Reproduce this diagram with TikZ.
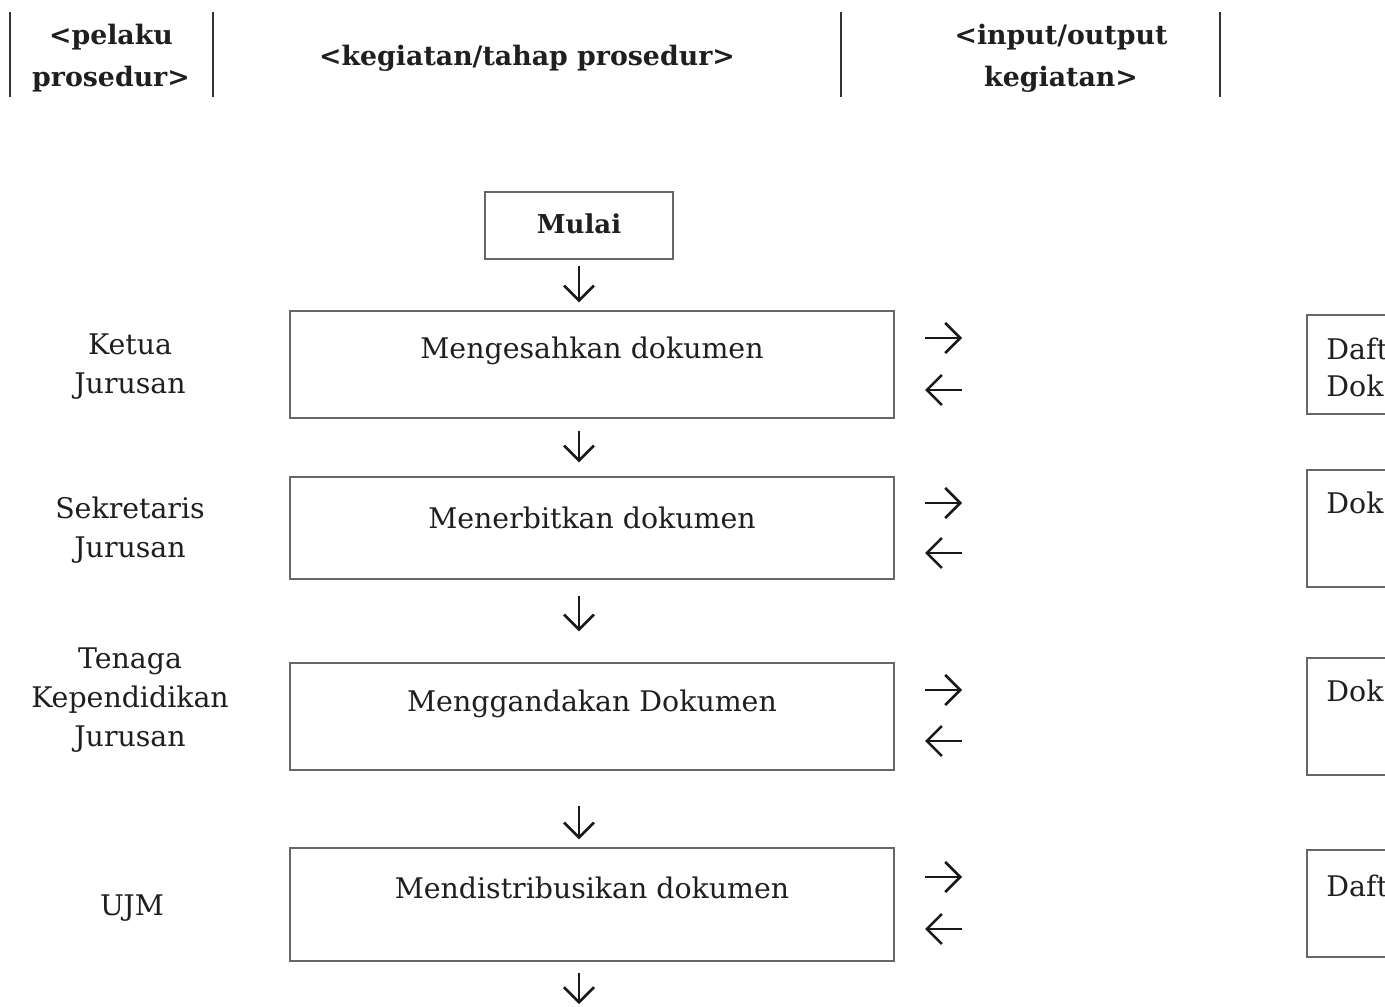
\documentclass[tikz,border=0pt]{standalone}
\usepackage{fontspec}
\setmainfont{DejaVu Serif}
\usetikzlibrary{arrows.meta}
\begin{document}
\begin{tikzpicture}[x=0.5pt,y=-0.5pt,
  box/.style={draw=black!60, line width=0.6pt, rectangle, inner sep=0pt},
  txt/.style={font=\fontsize{14.2}{19.5}\selectfont, align=center, text=black!88, inner sep=0pt},
  ltxt/.style={font=\fontsize{14.2}{18.5}\selectfont, align=left, text=black!88, inner sep=0pt, anchor=west},
  hdr/.style={font=\bfseries\fontsize{13.4}{21}\selectfont, align=center, text=black!88, inner sep=0pt},
  sep/.style={line width=0.7pt, black!80},
  flow/.style={-{Straight Barb[length=7.5pt,width=15pt,line width=1.3pt]}, line width=1.35pt, black!90}]
\useasboundingbox (0,0) rectangle (1385,1006);
\clip (0,0) rectangle (1385,1006);
% header
\draw[sep] (10,12) -- (10,97);
\draw[sep] (213,12) -- (213,97);
\draw[sep] (841,12) -- (841,97);
\draw[sep] (1220,12) -- (1220,97);
\node[hdr] (h1) at (111,58) {<pelaku\\prosedur>};
\node[hdr] (h2) at (527,58) {<kegiatan/tahap prosedur>};
\node[hdr] (h3) at (1061,58) {<input/output\\kegiatan>};
% start
\node[box, minimum width=94pt, minimum height=33.5pt] (mulai) at (579,225.5) {};
\node[txt, font=\bfseries\fontsize{13}{19.5}\selectfont] (mulait) at (579,224) {Mulai};
% main boxes
\node[box, minimum width=302pt, minimum height=53.5pt] (b1) at (592,364.5) {};
\node[box, minimum width=302pt, minimum height=51pt] (b2) at (592,528) {};
\node[box, minimum width=302pt, minimum height=53.5pt] (b3) at (592,716.5) {};
\node[box, minimum width=302pt, minimum height=56.5pt] (b4) at (592,904.5) {};
\node[txt] (t1) at (592,351) {Mengesahkan dokumen};
\node[txt] (t2) at (592,518) {Menerbitkan dokumen};
\node[txt] (t3) at (592,704) {Menggandakan Dokumen};
\node[txt] (t4) at (592,888) {Mendistribusikan dokumen};
% actors
\node[txt] (a1) at (130,367) {Ketua\\Jurusan};
\node[txt] (a2) at (130,530) {Sekretaris\\Jurusan};
\node[txt] (a3) at (130,700) {Tenaga\\Kependidikan\\Jurusan};
\node[txt] (a4) at (132,908) {UJM};
% right boxes (cut by the page edge)
\node[box, minimum width=60pt, minimum height=49.5pt] (r1) at (1367,364.5) {};
\node[box, minimum width=60pt, minimum height=58.5pt] (r2) at (1367,528.5) {};
\node[box, minimum width=60pt, minimum height=58.5pt] (r3) at (1367,716.5) {};
\node[box, minimum width=60pt, minimum height=53.5pt] (r4) at (1367,903.5) {};
\node[ltxt] (rt1) at (1326,367) {Daft\\Dok};
\node[ltxt] (rt2) at (1326,503) {Dok};
\node[ltxt] (rt3) at (1326,691) {Dok};
\node[ltxt] (rt4) at (1326,886) {Daft};
% down arrows
\coordinate (ax) at (579,0);
\draw[flow] ([yshift=-3pt]mulai.south) -- ([yshift=4pt]ax |- b1.north);
\draw[flow] ([yshift=-6pt]ax |- b1.south) -- ([yshift=7pt]ax |- b2.north);
\draw[flow] ([yshift=-8pt]ax |- b2.south) -- ([yshift=15.5pt]ax |- b3.north);
\draw[flow] ([yshift=-17.5pt]ax |- b3.south) -- ([yshift=4pt]ax |- b4.north);
\coordinate (endp) at (579,1004);
\draw[flow] ([yshift=-5.5pt]ax |- b4.south) -- (endp);
% side arrows
\foreach \i/\ya/\yb in {1/338/390, 2/503/553, 3/690/741, 4/877/929} {
  \coordinate (o\i a) at (925,\ya);
  \coordinate (o\i b) at (962,\ya);
  \coordinate (i\i a) at (962,\yb);
  \coordinate (i\i b) at (925,\yb);
  \draw[flow] (o\i a) -- (o\i b);
  \draw[flow] (i\i a) -- (i\i b);
}
\end{tikzpicture}
\end{document}
